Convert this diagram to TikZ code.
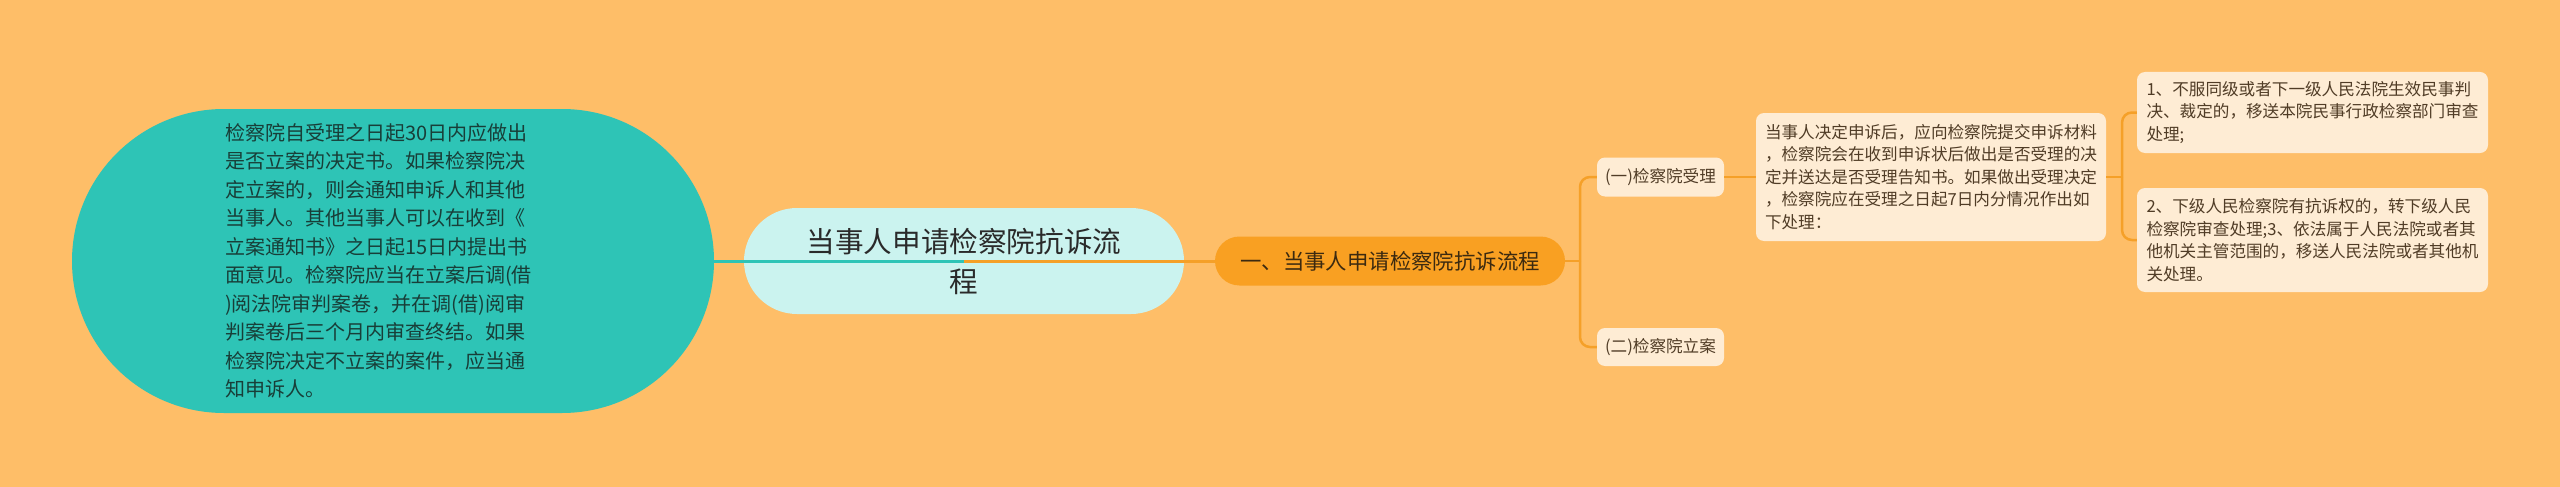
\documentclass[tikz,border=0pt]{standalone}
\usepackage{fontspec}
\setmainfont{Noto Sans CJK SC}
\usetikzlibrary{shapes.misc}
\definecolor{bg}{RGB}{254,190,104}
\definecolor{teal1}{RGB}{46,196,182}
\definecolor{cyanfill}{RGB}{203,243,239}
\definecolor{orangenode}{RGB}{249,160,34}
\definecolor{boxfill}{RGB}{254,236,212}
\definecolor{lineor}{RGB}{245,160,40}
\definecolor{tealtext}{RGB}{24,62,56}
\definecolor{boxtext}{RGB}{80,60,38}
\definecolor{roottext}{RGB}{42,42,42}
\definecolor{maintext}{RGB}{60,42,16}
\begin{document}
\begin{tikzpicture}[x=1pt,y=-1pt,
  leaf/.style={rectangle, rounded corners=8pt, fill=boxfill, inner sep=0pt, align=left, text=boxtext, font=\fontsize{16.6pt}{22.5pt}\selectfont},
  conn/.style={draw=lineor, line width=2.5pt, rounded corners=10pt},
]
\useasboundingbox (0,0) rectangle (2560,487);
\fill[bg] (0,0) rectangle (2560,487);
\node[rounded rectangle, fill=teal1, minimum width=642pt, minimum height=304pt, inner sep=0pt] (blob) at (393,261) {};
\node[anchor=west, align=left, text=tealtext, font=\fontsize{20pt}{28.5pt}\selectfont, inner sep=0pt] (blobtxt) at (225,261) {检察院自受理之日起30日内应做出\\
是否立案的决定书。如果检察院决\\
定立案的，则会通知申诉人和其他\\
当事人。其他当事人可以在收到《\\
立案通知书》之日起15日内提出书\\
面意见。检察院应当在立案后调(借\\
)阅法院审判案卷，并在调(借)阅审\\
判案卷后三个月内审查终结。如果\\
检察院决定不立案的案件，应当通\\
知申诉人。};
\node[rounded rectangle, fill=cyanfill, minimum width=440pt, minimum height=106pt, inner sep=0pt, align=center, font=\fontsize{28.6pt}{40pt}\selectfont, text=roottext] (root) at (964,261) {当事人申请检察院抗诉流\\程};
\node[rounded rectangle, fill=orangenode, minimum width=350pt, minimum height=49pt, inner sep=0pt, font=\fontsize{21.4pt}{26pt}\selectfont, text=maintext] (main) at (1390,261) {一、当事人申请检察院抗诉流程};
\node[leaf, minimum width=127pt, minimum height=39pt, align=center] (s1) at (1660.5,177) {(一)检察院受理};
\node[leaf, minimum width=127pt, minimum height=38pt, align=center] (s2) at (1660.5,347) {(二)检察院立案};
\node[leaf, minimum width=350pt, minimum height=128pt] (d1) at (1931,177) {当事人决定申诉后，应向检察院提交申诉材料\\
，检察院会在收到申诉状后做出是否受理的决\\
定并送达是否受理告知书。如果做出受理决定\\
，检察院应在受理之日起7日内分情况作出如\\
下处理：};
\node[leaf, minimum width=351pt, minimum height=81pt] (e1) at (2312.5,112.5) {1、不服同级或者下一级人民法院生效民事判\\
决、裁定的，移送本院民事行政检察部门审查\\
处理;};
\node[leaf, minimum width=351pt, minimum height=104pt] (e2) at (2312.5,240) {2、下级人民检察院有抗诉权的，转下级人民\\
检察院审查处理;3、依法属于人民法院或者其\\
他机关主管范围的，移送人民法院或者其他机\\
关处理。};
\coordinate (j1) at (1580,261);
\coordinate (j2) at (2122,177);
\draw[teal1, line width=3pt] (blob.east) -- (root.center);
\draw[lineor, line width=3pt] (root.center) -- (main.west);
\draw[conn] (main.east) -- (j1);
\draw[conn] (j1) |- (s1.west);
\draw[conn] (j1) |- (s2.west);
\draw[conn] (s1.east) -- (d1.west);
\draw[conn] (d1.east) -- (j2);
\draw[conn] (j2) |- (e1.west);
\draw[conn] (j2) |- (e2.west);
\end{tikzpicture}
\end{document}
